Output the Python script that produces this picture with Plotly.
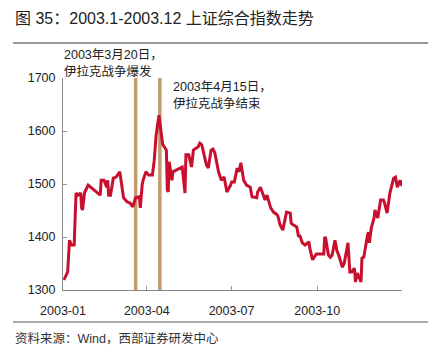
import plotly.graph_objects as go

dates = [
    "2003-01-02", "2003-01-06", "2003-01-08", "2003-01-10", "2003-01-13", "2003-01-14",
    "2003-01-15", "2003-01-17", "2003-01-20", "2003-01-21", "2003-01-22", "2003-01-24",
    "2003-01-28", "2003-02-10", "2003-02-11", "2003-02-14", "2003-02-17", "2003-02-18",
    "2003-02-19", "2003-02-21", "2003-02-24", "2003-02-27", "2003-03-03", "2003-03-04",
    "2003-03-07", "2003-03-11", "2003-03-14", "2003-03-17", "2003-03-20", "2003-03-24",
    "2003-03-25", "2003-03-27", "2003-03-28", "2003-03-31", "2003-04-03", "2003-04-07",
    "2003-04-09", "2003-04-11", "2003-04-14", "2003-04-16", "2003-04-18", "2003-04-22",
    "2003-04-23", "2003-04-24", "2003-04-25", "2003-04-28", "2003-04-29", "2003-05-09",
    "2003-05-12", "2003-05-13", "2003-05-16", "2003-05-19", "2003-05-21", "2003-05-26",
    "2003-05-28", "2003-05-30", "2003-06-02", "2003-06-04", "2003-06-06", "2003-06-09",
    "2003-06-11", "2003-06-13", "2003-06-17", "2003-06-20", "2003-06-23", "2003-06-26",
    "2003-06-30", "2003-07-01", "2003-07-04", "2003-07-07", "2003-07-09", "2003-07-11",
    "2003-07-14", "2003-07-17", "2003-07-21", "2003-07-23", "2003-07-28", "2003-07-29",
    "2003-08-01", "2003-08-04", "2003-08-06", "2003-08-08", "2003-08-12", "2003-08-15",
    "2003-08-19", "2003-08-20", "2003-08-22", "2003-08-25", "2003-08-29", "2003-09-02",
    "2003-09-03", "2003-09-05", "2003-09-09", "2003-09-11", "2003-09-12", "2003-09-15",
    "2003-09-18", "2003-09-22", "2003-09-23", "2003-09-26", "2003-09-29", "2003-09-30",
    "2003-10-08", "2003-10-09", "2003-10-10", "2003-10-13", "2003-10-15", "2003-10-17",
    "2003-10-20", "2003-10-22", "2003-10-24", "2003-10-28", "2003-10-30", "2003-11-03",
    "2003-11-05", "2003-11-07", "2003-11-10", "2003-11-11", "2003-11-13", "2003-11-17",
    "2003-11-18", "2003-11-20", "2003-11-24", "2003-11-25", "2003-11-26", "2003-11-28",
    "2003-12-01", "2003-12-02", "2003-12-05", "2003-12-08", "2003-12-11", "2003-12-12",
    "2003-12-15", "2003-12-18", "2003-12-22", "2003-12-24", "2003-12-26", "2003-12-29",
    "2003-12-31",
]
index_values = [
    1319, 1334, 1394, 1385, 1385, 1464,
    1483, 1479, 1483, 1455, 1451, 1483,
    1498, 1479, 1507, 1507, 1494, 1507,
    1479, 1479, 1511, 1513, 1523, 1511,
    1474, 1466, 1464, 1457, 1474, 1476,
    1455, 1498, 1507, 1523, 1517, 1517,
    1545, 1592, 1630, 1602, 1575, 1564,
    1489, 1485, 1542, 1507, 1523, 1532,
    1483, 1555, 1555, 1532, 1564, 1570,
    1577, 1574, 1551, 1536, 1530, 1564,
    1566, 1559, 1523, 1507, 1513, 1485,
    1498, 1504, 1504, 1530, 1523, 1540,
    1507, 1498, 1494, 1476, 1474, 1485,
    1494, 1479, 1470, 1479, 1455, 1447,
    1442, 1438, 1423, 1413, 1447, 1445,
    1426, 1423, 1419, 1400, 1404, 1389,
    1385, 1391, 1379, 1357, 1366, 1368,
    1368, 1400, 1398, 1366, 1362, 1366,
    1394, 1375, 1366, 1343, 1351, 1389,
    1334, 1334, 1341, 1315, 1332, 1315,
    1360, 1362, 1404, 1409, 1389, 1417,
    1436, 1451, 1436, 1470, 1470, 1466,
    1445, 1483, 1511, 1513, 1494, 1507,
    1496,
]
event_dates = ["2003-03-20", "2003-04-15"]
event_line1 = ["2003年3月20日，", "2003年4月15日，"]
event_line2 = ["伊拉克战争爆发", "伊拉克战争结束"]
y_ticks = [1300, 1400, 1500, 1600, 1700]
title_text = "图 35：2003.1-2003.12 上证综合指数走势"
source_text = "资料来源：Wind，西部证券研发中心"

FONT = "Liberation Sans, Arial, Noto Sans CJK SC, sans-serif"
O = 8  # page body margin offset
W, H = 440 - 2 * O, 358 - 2 * O
L = 63 - O
T = 78 - O
R = W - (402 - O)
B = H - (290 - O)
PW, PH = W - L - R, H - T - B


def px(x):
    return (x - O - L) / PW


def py(y):
    return (H - B - (y - O)) / PH


fig = go.Figure()
fig.add_trace(go.Scatter(
    x=dates, y=index_values, mode="lines",
    line=dict(color="#C8102E", width=3),
    showlegend=False, hoverinfo="skip",
))

for d in event_dates:
    fig.add_shape(type="line", xref="x", yref="paper", x0=d, x1=d, y0=0, y1=1,
                  line=dict(color="#C29A6E", width=3.5), layer="below")

ann_pos = [(62, 55, 72), (171, 87, 103)]
annotations = []
for (ax, ay1, ay2), t1, t2 in zip(ann_pos, event_line1, event_line2):
    annotations.append(dict(xref="paper", yref="paper", x=px(ax), y=py(ay1), text=t1,
                            showarrow=False, xanchor="left", yanchor="middle",
                            font=dict(family=FONT, size=12.5, color="#222")))
    annotations.append(dict(xref="paper", yref="paper", x=px(ax), y=py(ay2), text=t2,
                            showarrow=False, xanchor="left", yanchor="middle",
                            font=dict(family=FONT, size=12.5, color="#222")))
annotations.append(dict(xref="paper", yref="paper", x=px(13), y=py(18), text=title_text,
                        showarrow=False, xanchor="left", yanchor="middle",
                        font=dict(family=FONT, size=16, color="#222")))
annotations.append(dict(xref="paper", yref="paper", x=px(13), y=py(338), text=source_text,
                        showarrow=False, xanchor="left", yanchor="middle",
                        font=dict(family=FONT, size=12.5, color="#333")))

fig.add_shape(type="line", xref="paper", yref="paper", x0=px(13), x1=px(428),
              y0=py(43), y1=py(43), line=dict(color="#333", width=1.2))
fig.add_shape(type="line", xref="paper", yref="paper", x0=px(13), x1=px(428),
              y0=py(322), y1=py(322), line=dict(color="#555", width=1))

fig.update_layout(
    width=W, height=H,
    margin=dict(l=L, r=R, t=T, b=B),
    paper_bgcolor="white", plot_bgcolor="white",
    annotations=annotations,
    xaxis=dict(
        type="date", range=["2003-01-01", "2003-12-31"],
        tick0="2003-01-01", dtick="M3", tickformat="%Y-%m",
        ticks="inside", ticklen=4, tickcolor="#999",
        showline=True, linecolor="#888", linewidth=1,
        showgrid=False, zeroline=False, ticklabelstandoff=9,
        tickfont=dict(family=FONT, size=12.5, color="#222"),
    ),
    yaxis=dict(
        range=[1300, 1700], tickvals=y_ticks,
        ticks="inside", ticklen=4, tickcolor="#999",
        showline=True, linecolor="#888", linewidth=1,
        showgrid=False, zeroline=False, ticklabelstandoff=4,
        tickfont=dict(family=FONT, size=12.5, color="#222"),
    ),
)

fig.write_html("out.html")
